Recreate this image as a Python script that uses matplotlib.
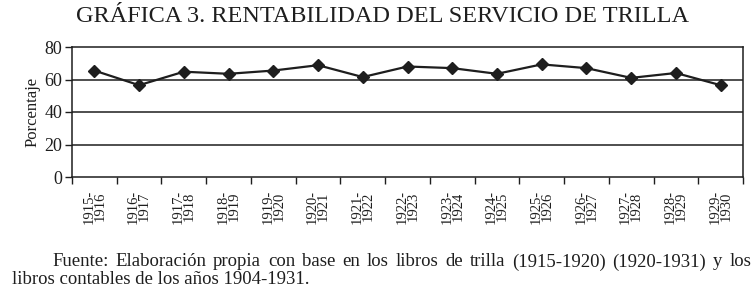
import numpy as np
import matplotlib.pyplot as plt

# data
periods = [
    '1915-\n1916', '1916-\n1917', '1917-\n1918', '1918-\n1919', '1919-\n1920',
    '1920-\n1921', '1921-\n1922', '1922-\n1923', '1923-\n1924', '1924-\n1925',
    '1925-\n1926', '1926-\n1927', '1927-\n1928', '1928-\n1929', '1929-\n1930',
]
rentabilidad = [65.5, 56.5, 64.8, 63.5, 65.5, 68.8, 61.5, 68.0, 67.0, 63.5,
                69.3, 67.0, 61.0, 64.0, 56.5]
yticks = [0, 20, 40, 60, 80]

titulo = 'GRÁFICA 3. RENTABILIDAD DEL SERVICIO DE TRILLA'
fuente_1 = ('Fuente: Elaboración propia con base en los libros de trilla '
            '(1915-1920) (1920-1931) y los')
fuente_2 = 'libros contables de los años 1904-1931.'

plt.rcParams['font.family'] = ['Liberation Serif', 'DejaVu Serif']
ink = '#1e1e1e'


def justified_line(fig, text, x0, x1, y, **kw):
    """Write one line of text spread so it fills x0..x1 (pixels)."""
    words = text.split()
    r = fig.canvas.get_renderer()
    arts = [fig.text(0, y, w, ha='left', va='center', **kw) for w in words]
    widths = [a.get_window_extent(r).width for a in arts]
    gap = (x1 - x0 - sum(widths)) / (len(words) - 1)
    pos = x0
    for a, w in zip(arts, widths):
        a.set_x(pos / fig.bbox.width)
        pos += w + gap


fig = plt.figure(figsize=(7.56, 2.90), dpi=100)
fig.patch.set_facecolor('white')
ax = fig.add_axes([72 / 756, 1 - 177 / 290, (743 - 72) / 756, 130 / 290])

x = np.arange(len(periods))
ax.plot(x, rentabilidad, color=ink, lw=1.6, marker='D', ms=6.5,
        markerfacecolor=ink, markeredgecolor=ink, zorder=3)

ax.set_xlim(-0.5, len(periods) - 0.5)
ax.set_ylim(0, 80)
ax.set_yticks(yticks)
ax.tick_params(axis='y', direction='out', length=5, width=1, color=ink,
               labelsize=13, pad=2, labelcolor=ink)
for v in yticks[1:-1]:
    ax.axhline(v, color=ink, lw=1.1, zorder=1)

# labels centred on categories, ticks between them
ax.set_xticks(x)
ax.set_xticklabels(periods, rotation=90, fontsize=10.5, linespacing=0.8,
                   color=ink, va='top', ha='center')
ax.tick_params(axis='x', which='major', length=0, pad=9)
ax.set_xticks(np.arange(-0.5, len(periods), 1), minor=True)
ax.tick_params(axis='x', which='minor', direction='out', length=5,
               width=1, color=ink)

for s in ax.spines.values():
    s.set_color(ink)
    s.set_linewidth(1.1)

ax.set_ylabel('Porcentaje', fontsize=12, color=ink, labelpad=3)

fig.text(383 / 756, 1 - 16 / 290, titulo,
         ha='center', va='center', fontsize=17.5, color=ink)
justified_line(fig, fuente_1, 52, 751, 1 - 262 / 290, fontsize=13.5, color=ink)
fig.text(12 / 756, 1 - 280 / 290, fuente_2,
         ha='left', va='center', fontsize=13.5, color=ink)

fig.savefig('out.png', dpi=100)
